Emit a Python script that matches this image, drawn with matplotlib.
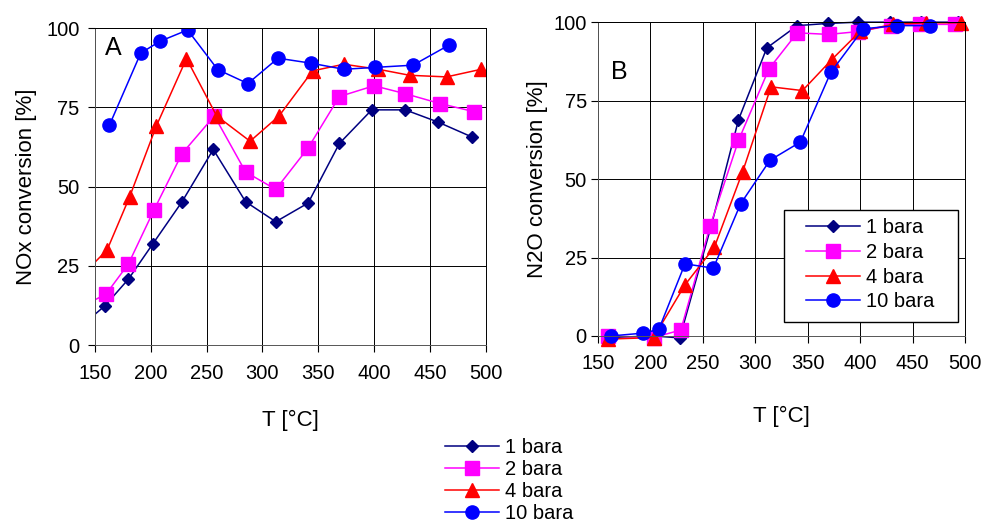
import matplotlib
matplotlib.use("Agg")
import matplotlib.pyplot as plt
from matplotlib.patches import Rectangle

plt.rcParams['font.family'] = ['Liberation Sans', 'DejaVu Sans']

series = ['1 bara', '2 bara', '4 bara', '10 bara']
colors = ['#000080', '#FF00FF', '#FF0000', '#0000FF']
markers = ['D', 's', '^', 'o']
msizes = [6.5, 9.5, 9.5, 9.5]

# panel A: NOx conversion (first points at 130 lie outside the axis and get clipped)
nox_t = [
    [130, 159, 180, 202, 228, 256, 285, 312, 341, 369, 398, 428, 457, 488],
    [130, 160, 180, 203, 228, 257, 285, 312, 341, 369, 400, 428, 459, 490],
    [130, 161, 181, 205, 232, 259, 289, 315, 345, 373, 404, 432, 465, 496],
    [163, 191, 208, 233, 260, 287, 314, 344, 373, 401, 435, 467],
]
nox_conv = [
    [3.7, 12.4, 20.8, 32.0, 45.2, 61.7, 45.2, 38.9, 44.8, 63.6, 74.2, 74.2, 70.4, 65.6],
    [10.6, 16.1, 25.6, 42.7, 60.4, 72.3, 54.6, 49.1, 62.2, 78.4, 81.8, 79.3, 76.2, 73.6],
    [18.9, 30.1, 46.7, 69.1, 90.4, 72.3, 64.3, 72.3, 86.5, 88.6, 87.0, 85.1, 84.6, 87.0],
    [69.4, 92.1, 95.8, 99.4, 86.9, 82.5, 90.5, 88.9, 87.0, 87.6, 88.3, 94.6],
]

# panel B: N2O conversion
n2o_t = [
    [160, 203, 228, 258, 284, 311, 340, 369, 398, 428, 458, 493],
    [160, 203, 229, 257, 284, 313, 340, 370, 398, 429, 457, 490],
    [160, 203, 233, 261, 288, 315, 345, 373, 400, 431, 463, 496],
    [162, 193, 208, 233, 260, 286, 314, 343, 372, 403, 435, 467],
]
n2o_conv = [
    [-0.5, 0.0, -0.6, 35.1, 68.9, 91.8, 98.9, 99.6, 100, 100, 100, 100],
    [0.0, -0.5, 1.9, 35.1, 62.3, 85.1, 96.6, 96.1, 97.0, 98.9, 99.3, 99.3],
    [-1.0, -0.5, 16.3, 28.3, 52.4, 79.4, 78.2, 88.1, 97.1, 99.3, 99.8, 99.8],
    [0.0, 0.9, 2.1, 23.0, 21.6, 42.1, 56.0, 61.8, 84.0, 97.9, 98.9, 98.9],
]

xticks = [150, 200, 250, 300, 350, 400, 450, 500]
yticks = [0, 25, 50, 75, 100]

fig = plt.figure(figsize=(9.84, 5.23), dpi=100)
axA = fig.add_axes([0.0965, 0.3403, 0.397, 0.606])
axB = fig.add_axes([0.6077, 0.3576, 0.373, 0.600])


def style(ax, letter, lx, ly):
    ax.set_xlim(150, 500)
    ax.set_ylim(0, 100)
    ax.set_xticks(xticks)
    ax.set_yticks(yticks)
    ax.grid(True, color='black', linewidth=0.7)
    ax.set_axisbelow(True)
    for s in ax.spines.values():
        s.set_color('black')
        s.set_linewidth(0.7)
    ax.spines['left'].set_color('#555555')
    ax.spines['bottom'].set_color('#555555')
    ax.tick_params(direction='out', length=5, width=0.8, labelsize=14.5, pad=6)
    ax.text(lx, ly, letter, transform=ax.transAxes, fontsize=18, va='top')


lines = []
for i in range(4):
    ln, = axA.plot(nox_t[i], nox_conv[i], color=colors[i], marker=markers[i],
                   markersize=msizes[i], linewidth=1.1, label=series[i])
    lines.append(ln)
    axB.plot(n2o_t[i], n2o_conv[i], color=colors[i], marker=markers[i],
             markersize=msizes[i], linewidth=1.1, label=series[i], clip_on=False)

style(axA, 'A', 0.025, 0.975)
style(axB, 'B', 0.035, 0.88)
axA.tick_params(axis='x', pad=9)
axA.set_xlabel('T [°C]', fontsize=16, labelpad=19)
axA.set_ylabel('NOx conversion [%]', fontsize=16, labelpad=7)
axB.tick_params(axis='x', pad=8)
axB.tick_params(axis='y', pad=3)
axB.set_xlabel('T [°C]', fontsize=16, labelpad=24)
axB.set_ylabel('N2O conversion [%]', fontsize=16, labelpad=4)

# legend box inside panel B (frame drawn separately so it can be wider than the entries)
axB.add_patch(Rectangle((0.507, 0.045), 0.474, 0.357, transform=axB.transAxes,
                        facecolor='white', edgecolor='black', linewidth=1.0, zorder=5))
legB = axB.legend(loc='upper left', bbox_to_anchor=(0.566, 0.375), fontsize=14.5,
                  frameon=False, handlelength=2.7, handletextpad=0.3,
                  labelspacing=0.28, borderpad=0, borderaxespad=0)
legB.set_zorder(6)

fig.legend(handles=lines, loc='upper left', bbox_to_anchor=(445 / 984, 1 - 438 / 523),
           fontsize=14.5, frameon=False, handlelength=2.7, handletextpad=0.3,
           labelspacing=0.15, borderpad=0, borderaxespad=0)

fig.savefig('out.png', dpi=100)
